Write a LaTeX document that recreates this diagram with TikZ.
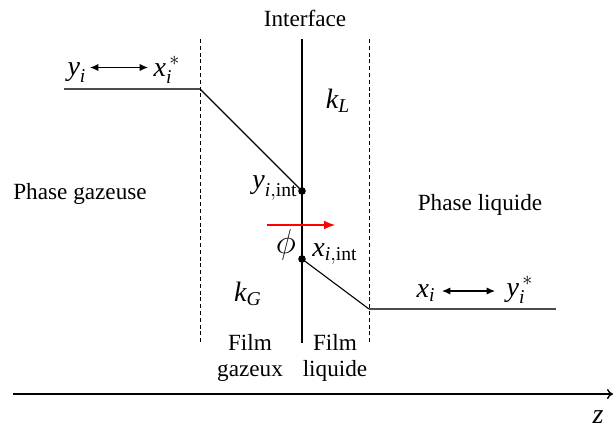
\documentclass[tikz,border=0pt]{standalone}
\usepackage{amsmath}
\usepackage{fontspec}
\setmainfont{Liberation Serif}
\usetikzlibrary{arrows.meta, positioning, calc}
\tikzset{
  lbl/.style={inner sep=0pt, align=center, font=\fontsize{11.6}{12.6}\selectfont},
  sym/.style={lbl, font=\fontsize{14}{16}\selectfont},
  wall/.style={line width=0.8pt, draw=black},
  film/.style={line width=0.45pt, draw=black, dash pattern=on 2pt off 1.4pt},
  profile/.style={line width=0.55pt, draw=black},
  bulk/.style={line width=0.8pt, draw=black!70},
  equil/.style={{Latex[length=4.2pt,width=3.6pt]}-{Latex[length=4.2pt,width=3.6pt]}, line width=0.55pt},
  flux/.style={-{Latex[length=5.5pt,width=4.4pt]}, line width=0.55pt, draw=red},
  axis/.style={-{To[length=3pt,width=5pt]}, line width=0.7pt},
  dot/.style={circle, fill=black, inner sep=0pt, minimum size=3.8pt}
}

\begin{document}
\begin{tikzpicture}[x=0.5pt, y=-0.5pt]
\useasboundingbox (0,0) rectangle (614,428);

% films and interface
\node[lbl] (itf) at (305,18) {Interface};
\coordinate (itftop) at (302,39);
\coordinate (itfbot) at (302,343);
\draw[wall] (itftop) -- (itfbot);
\draw[film] (200,39) coordinate (gtop) -- (200,343) coordinate (gbot);
\draw[film] (369,39) coordinate (ltop) -- (369,343) coordinate (lbot);

% concentration profile
\coordinate (g0) at (64,89);
\coordinate (g1) at (gtop |- g0);
\node[dot] (yint) at (302,191) {};
\node[dot] (xint) at (302,259) {};
\coordinate (l1) at (369,309);
\coordinate (l2) at (556,309);
\draw[bulk] (g0) -- (g1);
\draw[profile] (g1) -- (yint.center);
\draw[profile] (xint.center) -- (l1);
\draw[bulk] (l1) -- (l2);

% labels
\node[sym] (yg) at (77,73) {$\textit{y}_{\textit{i}}$};
\node[sym] (xgs) at (167,70) {$\textit{x}_{\textit{i}}^{\,*}$};
\draw[equil] (90,67.5) -- (148,67.5);
\node[sym] (kl) at (338,101) {$\textit{k}_{\textit{L}}$};
\node[lbl] (pg) at (80,194) {Phase gazeuse};
\node[sym, anchor=east] (yintl) at (298,188) {$\textit{y}_{\textit{i},\text{int}}$};
\draw[flux] (267,225) coordinate (fl0) -- (335,225) coordinate (fl1);
\node[sym, font=\fontsize{16}{18}\selectfont] (phi) at (286,245) {$\phi$};
\node[sym, anchor=west] (xintl) at (312,254) {$\textit{x}_{\textit{i},\text{int}}$};
\node[lbl] (pl) at (480,205) {Phase liquide};
\node[sym] (kg) at (248,294) {$\textit{k}_{\textit{G}}$};
\node[sym] (xl) at (426,293) {$\textit{x}_{\textit{i}}$};
\node[sym] (yls) at (520,290) {$\textit{y}_{\textit{i}}^{\,*}$};
\draw[equil] (442,291) -- (495,291);
\node[lbl] (fg) at (250,358) {Film\\gazeux};
\node[lbl] (fl) at (335,358) {Film\\liquide};

% axis
\coordinate (z0) at (13,394);
\coordinate (z1) at (613,394);
\draw[axis] (z0) -- (z1);
\node[sym] (z) at (598,417) {\textit{z}};

\end{tikzpicture}
\end{document}
